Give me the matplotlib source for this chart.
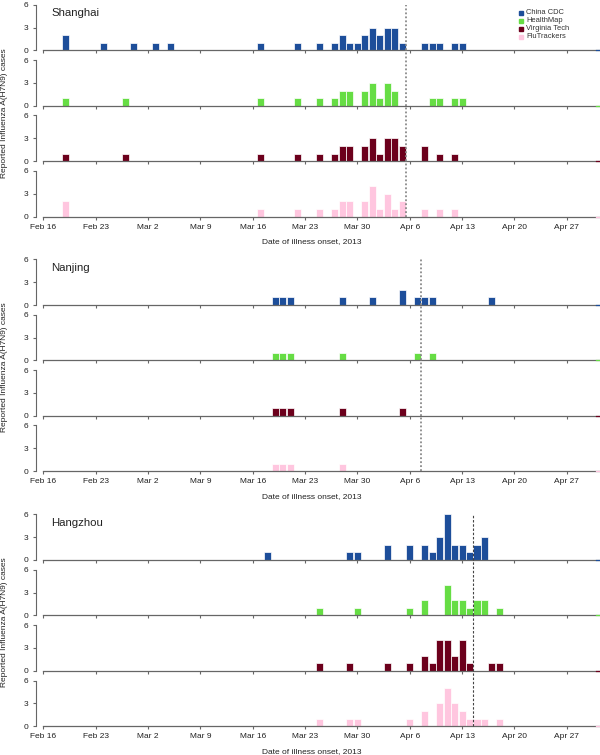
import matplotlib
matplotlib.use('Agg')
import matplotlib.pyplot as plt
from matplotlib.lines import Line2D

plt.rcParams['font.family'] = ['Liberation Sans', 'DejaVu Sans']

# ---------------- data (day offsets from Feb 16, 2013) ----------------
tick_days = [0, 7, 14, 21, 28, 35, 42, 49, 56, 63, 70]
tick_labels = ["Feb 16", "Feb 23", "Mar 2", "Mar 9", "Mar 16", "Mar 23",
               "Mar 30", "Apr 6", "Apr 13", "Apr 20", "Apr 27"]

sources = ["China CDC", "HealthMap", "Virginia Tech", "FluTrackers"]
cities = ["Shanghai", "Nanjing", "Hangzhou"]

shanghai_cdc_days = [3, 8, 12, 15, 17, 29, 34, 37, 39, 40, 41, 42, 43, 44, 45, 46, 47, 48, 51, 52, 53, 55, 56]
shanghai_cdc_counts = [2, 1, 1, 1, 1, 1, 1, 1, 1, 2, 1, 1, 2, 3, 2, 3, 3, 1, 1, 1, 1, 1, 1]
shanghai_hm_days = [3, 11, 29, 34, 37, 39, 40, 41, 43, 44, 45, 46, 47, 52, 53, 55, 56]
shanghai_hm_counts = [1, 1, 1, 1, 1, 1, 2, 2, 2, 3, 1, 3, 2, 1, 1, 1, 1]
shanghai_vt_days = [3, 11, 29, 34, 37, 39, 40, 41, 43, 44, 45, 46, 47, 48, 51, 53, 55]
shanghai_vt_counts = [1, 1, 1, 1, 1, 1, 2, 2, 2, 3, 1, 3, 3, 2, 2, 1, 1]
shanghai_ft_days = [3, 29, 34, 37, 39, 40, 41, 43, 44, 45, 46, 47, 48, 51, 53, 55]
shanghai_ft_counts = [2, 1, 1, 1, 1, 2, 2, 2, 4, 1, 3, 1, 2, 1, 1, 1]

nanjing_cdc_days = [31, 32, 33, 40, 44, 48, 50, 51, 52, 60]
nanjing_cdc_counts = [1, 1, 1, 1, 1, 2, 1, 1, 1, 1]
nanjing_hm_days = [31, 32, 33, 40, 50, 52]
nanjing_hm_counts = [1, 1, 1, 1, 1, 1]
nanjing_vt_days = [31, 32, 33, 40, 48]
nanjing_vt_counts = [1, 1, 1, 1, 1]
nanjing_ft_days = [31, 32, 33, 40]
nanjing_ft_counts = [1, 1, 1, 1]

hangzhou_cdc_days = [30, 41, 42, 46, 49, 51, 52, 53, 54, 55, 56, 57, 58, 59]
hangzhou_cdc_counts = [1, 1, 1, 2, 2, 2, 1, 3, 6, 2, 2, 1, 2, 3]
hangzhou_hm_days = [37, 42, 49, 51, 54, 55, 56, 57, 58, 59, 61]
hangzhou_hm_counts = [1, 1, 1, 2, 4, 2, 2, 1, 2, 2, 1]
hangzhou_vt_days = [37, 41, 46, 49, 51, 52, 53, 54, 55, 56, 57, 60, 61]
hangzhou_vt_counts = [1, 1, 1, 1, 2, 1, 4, 4, 2, 4, 1, 1, 1]
hangzhou_ft_days = [37, 41, 42, 49, 51, 53, 54, 55, 56, 57, 58, 59, 61]
hangzhou_ft_counts = [1, 1, 1, 1, 2, 3, 5, 3, 2, 1, 1, 1, 1]

report_day = [48.5, 50.5, 57.5]   # vertical reference line per city

# ---------------- styling ----------------
colors = ["#1d4e9a", "#66dd44", "#6c001c", "#ffc6df"]
axis_col = "#666666"
text_col = "#222222"

W, H = 600, 755
fig = plt.figure(figsize=(6, 7.55), dpi=100)

X0, X1 = -1.02, 74.4
PX_DAY = 7.477
left_px = 35.7
group_top = [4.7, 259.3, 514.3]
panel_step = 55.4
panel_h = 45.7

series = {
    "Shanghai": [(shanghai_cdc_days, shanghai_cdc_counts), (shanghai_hm_days, shanghai_hm_counts),
                 (shanghai_vt_days, shanghai_vt_counts), (shanghai_ft_days, shanghai_ft_counts)],
    "Nanjing": [(nanjing_cdc_days, nanjing_cdc_counts), (nanjing_hm_days, nanjing_hm_counts),
                (nanjing_vt_days, nanjing_vt_counts), (nanjing_ft_days, nanjing_ft_counts)],
    "Hangzhou": [(hangzhou_cdc_days, hangzhou_cdc_counts), (hangzhou_hm_days, hangzhou_hm_counts),
                 (hangzhou_vt_days, hangzhou_vt_counts), (hangzhou_ft_days, hangzhou_ft_counts)],
}

line_styles = [dict(ls=(0, (1, 1.2)), color="#8a8a8a", lw=1.3),
               dict(ls=(0, (1, 1.2)), color="#8a8a8a", lw=1.3),
               dict(ls=(0, (2.2, 1.6)), color="#444444", lw=0.8)]

for g, city in enumerate(cities):
    T = group_top[g]
    for k in range(4):
        top_px = T + panel_step * k
        bot_px = top_px + panel_h
        ax = fig.add_axes([left_px / W, 1 - bot_px / H,
                           (X1 - X0) * PX_DAY / W, panel_h / H])
        ax.set_xlim(X0, X1)
        ax.set_ylim(0, 6)
        days, counts = series[city][k]
        ax.bar(days, counts, width=0.94, color=colors[k], edgecolor="white",
               linewidth=0.5, zorder=2)
        # baseline
        ax.plot([0, X1], [0, 0], color=axis_col, lw=0.9, clip_on=False, zorder=3)
        ax.plot([73.9, X1], [0, 0], color=colors[k], lw=0.9, clip_on=False, zorder=4)
        # reference line
        st = line_styles[g]
        ax.plot([report_day[g]] * 2, [0, 6 if k == 0 else 7.27], linestyle=st["ls"],
                color=st["color"], lw=st["lw"], clip_on=False, zorder=5)
        for s in ["top", "right", "bottom"]:
            ax.spines[s].set_visible(False)
        ax.spines["left"].set_bounds(0, 6)
        ax.spines["left"].set_color(axis_col)
        ax.spines["left"].set_linewidth(0.8)
        ax.set_yticks([0, 3, 6])
        ax.set_xticks(tick_days)
        ax.tick_params(axis="y", length=2.4, width=0.8, color=axis_col, pad=3.2,
                       labelsize=6, labelcolor=text_col)
        ax.tick_params(axis="x", length=2.4, width=0.8, color=axis_col, pad=2.8,
                       labelsize=6, labelcolor=text_col)
        if k == 3:
            ax.set_xticklabels(tick_labels)
        else:
            ax.tick_params(axis="x", labelbottom=False)
        ax.patch.set_alpha(0)
    fig.text(51 / W, 1 - (T + 8.3) / H, city, fontsize=8.2, color=text_col,
             ha="left", va="center")
    fig.text(4.8 / W, 1 - (T + 108) / H, "Reported Influenza A(H7N9) cases",
             fontsize=6, color=text_col, rotation=90, ha="center", va="center")
    fig.text(312 / W, 1 - (T + 237) / H, "Date of illness onset, 2013",
             fontsize=6, color=text_col, ha="center", va="center")

# legend
for i, name in enumerate(sources):
    yy = 1 - (12.7 + 8 * i) / H
    fig.add_artist(Line2D([520.7 / W], [yy], marker="s", markersize=2.6, color=colors[i],
                          linestyle="none", transform=fig.transFigure))
    fig.text(526 / W, yy, name, fontsize=5.4, color="#333333", ha="left", va="center")

fig.savefig("out.png", dpi=100)
